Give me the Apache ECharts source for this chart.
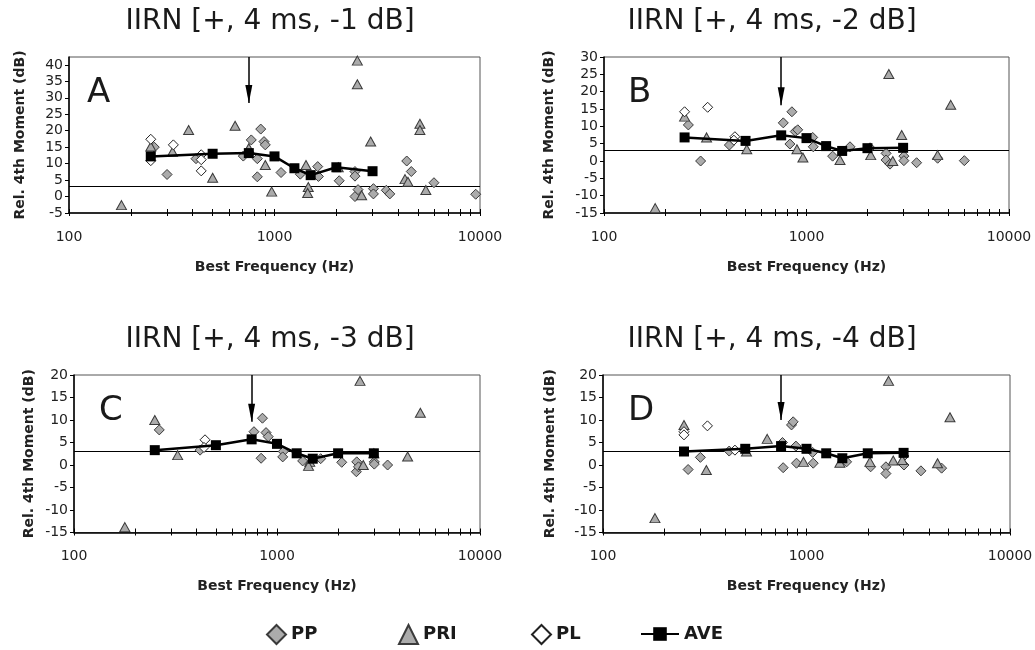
<!DOCTYPE html>
<html><head><meta charset="utf-8">
<script src="https://cdn.jsdelivr.net/npm/echarts@6/dist/echarts.min.js"></script>
<style>html,body{margin:0;padding:0;background:#fff}#c{width:1035px;height:650px}</style>
</head><body><div id="c"></div>
<script>
// ---- data ----
const seriesNames = ['PP', 'PRI', 'PL', 'AVE'];
const panelTitles = ['IIRN [+, 4 ms, -1 dB]', 'IIRN [+, 4 ms, -2 dB]', 'IIRN [+, 4 ms, -3 dB]', 'IIRN [+, 4 ms, -4 dB]'];
const panelLetters = ['A', 'B', 'C', 'D'];
const xTickValues = [100,200,300,400,500,600,700,800,900,1000,2000,3000,4000,5000,6000,7000,8000,9000,10000];
const xLabelValues = [100, 1000, 10000];
const yTicksA = [-5,0,5,10,15,20,25,30,35,40];
const yTicksB = [-15,-10,-5,0,5,10,15,20,25,30];
const yTicksCD = [-15,-10,-5,0,5,10,15,20];
const yRangeA = [-5, 42.4];
const yRangeB = [-15, 30];
const yRangeCD = [-15, 20];
const refLevel = 3;
const arrowFreq = 750;
const arrowTips = [28.4, 16.1, 9.6, 10.0];

const ppA = [[260,15.0],[300,6.7],[415,11.5],[705,12.3],[771,17.2],[825,6.0],[825,11.5],[857,20.5],[889,16.7],[902,15.7],[1076,7.3],[1335,6.8],[1623,9.1],[1636,6.1],[2065,4.8],[2464,7.6],[2464,6.2],[2464,0.0],[2550,2.1],[3030,2.4],[3030,0.8],[3500,1.9],[3640,0.8],[4400,10.8],[4630,7.6],[5970,4.2],[9530,0.7]];
const priA = [[180,-2.6],[250,15.2],[319,13.6],[382,20.2],[500,5.7],[643,21.5],[750,14.7],[902,9.6],[969,1.5],[1423,9.6],[1460,2.9],[1450,1.1],[2043,8.9],[2530,41.3],[2530,34.1],[2655,0.4],[2937,16.7],[4316,5.3],[4460,4.5],[5100,22.1],[5100,20.2],[5450,2.0]];
const plA = [[250,17.4],[250,10.9],[322,15.7],[440,12.7],[440,11.2],[440,7.8]];
const aveA = [[250,12.2],[500,13.0],[750,13.2],[1000,12.2],[1250,8.6],[1500,6.5],[2000,8.9],[3000,7.7]];

const ppB = [[261,10.4],[300,0.0],[416,4.6],[768,11.0],[847,14.2],[828,4.9],[880,8.5],[905,9.0],[1073,6.8],[1080,4.1],[1346,1.4],[1640,4.1],[2060,3.8],[2472,2.2],[2472,0.3],[2585,-0.9],[3027,1.4],[3027,0.1],[3497,-0.5],[4442,0.8],[6017,0.1]];
const priB = [[179,-13.6],[250,12.8],[321,6.8],[507,3.4],[897,3.4],[960,1.0],[1464,0.3],[2076,1.7],[2550,25.1],[2667,0.0],[2951,7.5],[4442,1.7],[5155,16.2]];
const plB = [[250,14.2],[325,15.5],[443,7.0],[438,6.0]];
const aveB = [[250,6.8],[500,5.8],[750,7.4],[1000,6.6],[1250,4.3],[1500,2.9],[2000,3.7],[3000,3.8]];

const ppC = [[263,7.8],[418,3.3],[770,7.4],[848,10.4],[835,1.5],[883,7.2],[905,6.3],[1074,3.0],[1067,1.8],[1338,0.9],[1641,1.4],[2084,0.6],[2471,0.7],[2460,-1.5],[2520,-0.4],[3015,0.7],[3015,0.2],[3506,0.0]];
const priC = [[178,-13.8],[250,10.0],[324,2.2],[1450,0.7],[1430,-0.2],[2564,18.7],[2661,0.0],[3000,2.6],[4400,1.9],[5083,11.6]];
const plC = [[442,5.6],[437,3.9]];
const aveC = [[250,3.3],[500,4.4],[750,5.7],[1000,4.7],[1250,2.6],[1500,1.4],[2000,2.6],[3000,2.6]];

const ppD = [[262,-1.0],[301,1.7],[417,3.1],[768,-0.6],[762,5.0],[844,8.9],[860,9.6],[887,4.2],[893,0.4],[1072,2.8],[1079,0.4],[1574,0.7],[2066,-0.4],[2456,-0.4],[2456,-1.9],[3013,2.0],[3013,0.0],[3650,-1.3],[4613,-0.7]];
const priD = [[180,-11.8],[250,8.9],[322,-1.1],[507,3.0],[641,5.8],[967,0.7],[1459,0.5],[2049,0.7],[2531,18.7],[2668,1.0],[2953,1.1],[4404,0.4],[5070,10.6]];
const plD = [[250,7.4],[250,6.7],[326,8.7],[445,3.3]];
const aveD = [[250,3.0],[500,3.6],[750,4.2],[1000,3.6],[1250,2.6],[1500,1.5],[2000,2.6],[3000,2.7]];

// ---- layout ----
const FONT = 'DejaVu Sans';
const panels = [
  {pp: ppA, pri: priA, pl: plA, ave: aveA, yr: yRangeA, yt: yTicksA},
  {pp: ppB, pri: priB, pl: plB, ave: aveB, yr: yRangeB, yt: yTicksB},
  {pp: ppC, pri: priC, pl: plC, ave: aveC, yr: yRangeCD, yt: yTicksCD},
  {pp: ppD, pri: priD, pl: plD, ave: aveD, yr: yRangeCD, yt: yTicksCD}
];
const gridBoxes = [
  {left: 69, top: 57, width: 411, height: 156},
  {left: 604, top: 57, width: 405, height: 156},
  {left: 74, top: 375, width: 406, height: 157.5},
  {left: 603, top: 375, width: 407, height: 157.5}
];
const yNameGaps = [42, 48, 38, 46];
const titlePos = [{x: 270, y: 8}, {x: 772, y: 8}, {x: 270, y: 326}, {x: 772, y: 326}];
const letterPos = [{x: 87, y: 76}, {x: 628, y: 76}, {x: 99, y: 394}, {x: 628, y: 394}];

const grid = [], xAxis = [], yAxis = [], series = [], title = [];
const gray = '#ababab', edge = '#3a3a3a';

panels.forEach((p, i) => {
  grid.push(Object.assign({show: true, borderColor: '#555', borderWidth: 1, outerBoundsMode: 'none', containLabel: false}, gridBoxes[i]));
  xAxis.push({
    gridIndex: i, type: 'log', logBase: 10, min: 100, max: 10000,
    axisLine: {show: true, onZero: false, lineStyle: {color: '#000', width: 1.5}},
    axisTick: {show: true, length: 3, customValues: xTickValues, lineStyle: {color: '#000', width: 1}},
    axisLabel: {show: true, customValues: xLabelValues, formatter: v => String(Math.round(v)), fontFamily: FONT, fontSize: 14, color: '#222', margin: 17},
    splitLine: {show: false}, minorTick: {show: false},
    name: 'Best Frequency (Hz)', nameLocation: 'middle', nameGap: 47,
    nameTextStyle: {fontFamily: FONT, fontWeight: 'bold', fontSize: 14, color: '#222'}
  });
  xAxis.push({
    gridIndex: i, type: 'log', logBase: 10, min: 100, max: 10000, position: 'bottom',
    axisLine: {show: false, onZero: false},
    axisTick: {show: true, inside: true, length: 4, customValues: xTickValues, lineStyle: {color: '#000', width: 1}},
    axisLabel: {show: false}, splitLine: {show: false}
  });
  yAxis.push({
    gridIndex: i, type: 'value', min: p.yr[0], max: p.yr[1],
    axisLine: {show: true, onZero: false, lineStyle: {color: '#000', width: 1.5}},
    axisTick: {show: true, length: 4, customValues: p.yt, lineStyle: {color: '#000', width: 1}},
    axisLabel: {show: true, customValues: p.yt, fontFamily: FONT, fontSize: 14, color: '#222', margin: 6},
    splitLine: {show: false},
    name: 'Rel. 4th Moment (dB)', nameLocation: 'middle', nameGap: yNameGaps[i],
    nameTextStyle: {fontFamily: FONT, fontWeight: 'bold', fontSize: 14, color: '#222'}
  });
  const xi = 2 * i;
  series.push({
    type: 'scatter', name: 'PP', xAxisIndex: xi, yAxisIndex: i, data: p.pp,
    symbol: 'diamond', symbolSize: 10, z: 2,
    itemStyle: {color: gray, borderColor: edge, borderWidth: 1, opacity: 1}
  });
  series.push({
    type: 'scatter', name: 'PRI', xAxisIndex: xi, yAxisIndex: i, data: p.pri,
    symbol: 'triangle', symbolSize: [10, 9], z: 3,
    itemStyle: {color: gray, borderColor: edge, borderWidth: 1, opacity: 1}
  });
  series.push({
    type: 'scatter', name: 'PL', xAxisIndex: xi, yAxisIndex: i, data: p.pl,
    symbol: 'diamond', symbolSize: 10, z: 4,
    itemStyle: {color: '#fff', borderColor: '#222', borderWidth: 1, opacity: 1}
  });
  series.push({
    type: 'line', name: 'AVE', xAxisIndex: xi, yAxisIndex: i, data: p.ave,
    symbol: 'rect', symbolSize: 10, z: 5,
    lineStyle: {color: '#000', width: 2.5}, itemStyle: {color: '#000'},
    markLine: {
      silent: true, z: 1, animation: false,
      label: {show: false}, symbol: ['none', 'none'],
      lineStyle: {color: '#000', width: 1, type: 'solid'},
      itemStyle: {color: '#000'},
      emphasis: {disabled: true},
      data: [
        {yAxis: refLevel, lineStyle: {color: '#000', width: 1, type: 'solid'}},
        [
          {coord: [arrowFreq, p.yr[1]], symbol: 'none', lineStyle: {color: '#000', width: 1.5, type: 'solid'}},
          {coord: [arrowFreq, arrowTips[i]], symbol: 'triangle', symbolSize: [7, 18], symbolOffset: [0, 9]}
        ]
      ]
    }
  });
  title.push({
    text: panelTitles[i], left: titlePos[i].x, top: titlePos[i].y, textAlign: 'center', padding: 0,
    textStyle: {fontFamily: FONT, fontWeight: 'normal', fontSize: 28, color: '#1a1a1a'}
  });
  title.push({
    text: panelLetters[i], left: letterPos[i].x, top: letterPos[i].y, padding: 0,
    textStyle: {fontFamily: FONT, fontWeight: 'normal', fontSize: 34, color: '#1a1a1a'}
  });
});

const legendTextStyle = {fontFamily: FONT, fontWeight: 'bold', fontSize: 18, color: '#1a1a1a'};
const legendBase = {padding: 0, itemWidth: 19, itemHeight: 19, textStyle: legendTextStyle, selectedMode: false};
const legend = [
  Object.assign({data: ['PP'], left: 266, top: 624}, legendBase),
  Object.assign({data: ['PRI'], left: 398, top: 624}, legendBase),
  Object.assign({data: ['PL'], left: 531, top: 624}, legendBase),
  Object.assign({}, legendBase, {data: ['AVE'], left: 640, top: 625, itemWidth: 38, itemHeight: 17})
];

const chart = echarts.init(document.getElementById('c'), null, {renderer: 'canvas'});
chart.setOption({
  animation: false,
  backgroundColor: '#fff',
  title, legend, grid, xAxis, yAxis, series
});
</script>
</body></html>
